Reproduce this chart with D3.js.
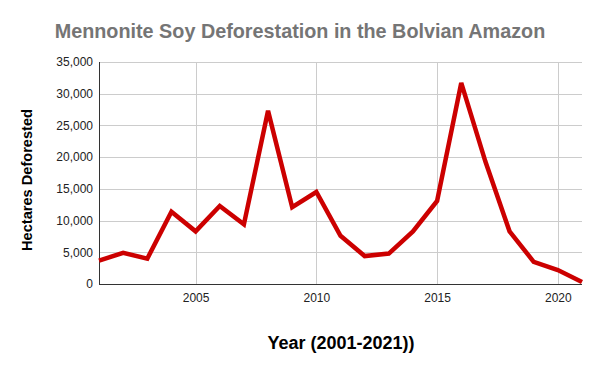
<!DOCTYPE html>
<html>
<head>
<meta charset="utf-8">
<script src="https://cdn.jsdelivr.net/npm/d3@7"></script>
<style>
  body { margin: 0; background: #fff; }
  text { font-family: "Liberation Sans", Arial, sans-serif; }
</style>
</head>
<body>
<div class="canvas"></div>
<script>
const years = [2001, 2002, 2003, 2004, 2005, 2006, 2007, 2008, 2009, 2010, 2011,
  2012, 2013, 2014, 2015, 2016, 2017, 2018, 2019, 2020, 2021];
const hectares = [3700, 4900, 4000, 11400, 8300, 12300, 9400, 27300, 12100, 14500, 7600,
  4400, 4800, 8300, 13100, 31700, 19300, 8300, 3500, 2200, 300];
const yTicks = [0, 5000, 10000, 15000, 20000, 25000, 30000, 35000];
const xTicks = [2005, 2010, 2015, 2020];

const width = 600;
const height = 371;
const margin = { top: 62, right: 18, bottom: 87, left: 99 };
const graphWidth = width - margin.left - margin.right;
const graphHeight = height - margin.top - margin.bottom;

const svg = d3.select('.canvas').append('svg')
  .attr('width', width)
  .attr('height', height);

const graph = svg.append('g')
  .attr('transform', `translate(${margin.left}, ${margin.top})`);

const x = d3.scaleLinear()
  .domain([2001, 2021])
  .range([0, graphWidth]);

const y = d3.scaleLinear()
  .domain([0, 35000])
  .range([graphHeight, 0]);

// gridlines
graph.append('g')
  .selectAll('line.h')
  .data(yTicks)
  .enter().append('line')
  .attr('x1', 0)
  .attr('x2', graphWidth)
  .attr('y1', d => Math.round(y(d)) + 0.5)
  .attr('y2', d => Math.round(y(d)) + 0.5)
  .attr('stroke', '#ccc');

graph.append('g')
  .selectAll('line.v')
  .data(xTicks)
  .enter().append('line')
  .attr('x1', d => Math.round(x(d)) + 0.5)
  .attr('x2', d => Math.round(x(d)) + 0.5)
  .attr('y1', 0)
  .attr('y2', graphHeight)
  .attr('stroke', '#ccc');

// axes
const xAxis = d3.axisBottom(x)
  .tickValues(xTicks)
  .tickFormat(d3.format('d'))
  .tickSize(0)
  .tickPadding(9);

const yAxis = d3.axisLeft(y)
  .tickValues(yTicks)
  .tickFormat(d3.format(','))
  .tickSize(0)
  .tickPadding(6);

const xAxisGroup = graph.append('g')
  .attr('transform', `translate(0, ${graphHeight})`)
  .call(xAxis);
const yAxisGroup = graph.append('g').call(yAxis);

xAxisGroup.select('.domain').remove();
yAxisGroup.select('.domain').remove();

xAxisGroup.selectAll('text')
  .attr('fill', '#222')
  .style('font-size', '12px');
yAxisGroup.selectAll('text')
  .attr('fill', '#222')
  .style('font-size', '12px');

// baseline and left axis line
graph.append('line')
  .attr('x1', 0).attr('x2', graphWidth)
  .attr('y1', graphHeight + 0.5).attr('y2', graphHeight + 0.5)
  .attr('stroke', '#333');
graph.append('line')
  .attr('x1', 0.5).attr('x2', 0.5)
  .attr('y1', 0).attr('y2', graphHeight)
  .attr('stroke', '#333');

// data line
const line = d3.line()
  .x((d, i) => x(years[i]))
  .y(d => y(d));

graph.append('path')
  .datum(hectares)
  .attr('d', line)
  .attr('fill', 'none')
  .attr('stroke', '#cc0000')
  .attr('stroke-width', 4.5)
  .attr('stroke-linejoin', 'miter');

// titles
svg.append('text')
  .attr('x', 300)
  .attr('y', 38)
  .attr('text-anchor', 'middle')
  .attr('fill', '#757575')
  .style('font-size', '19.8px')
  .style('font-weight', 'bold')
  .text('Mennonite Soy Deforestation in the Bolvian Amazon');

svg.append('text')
  .attr('x', 341)
  .attr('y', 349)
  .attr('text-anchor', 'middle')
  .attr('fill', '#000')
  .style('font-size', '18px')
  .style('font-weight', 'bold')
  .text('Year (2001-2021))');

svg.append('text')
  .attr('transform', 'translate(32, 180) rotate(-90)')
  .attr('text-anchor', 'middle')
  .attr('fill', '#000')
  .style('font-size', '14.6px')
  .style('font-weight', 'bold')
  .text('Hectares Deforested');
</script>
</body>
</html>
